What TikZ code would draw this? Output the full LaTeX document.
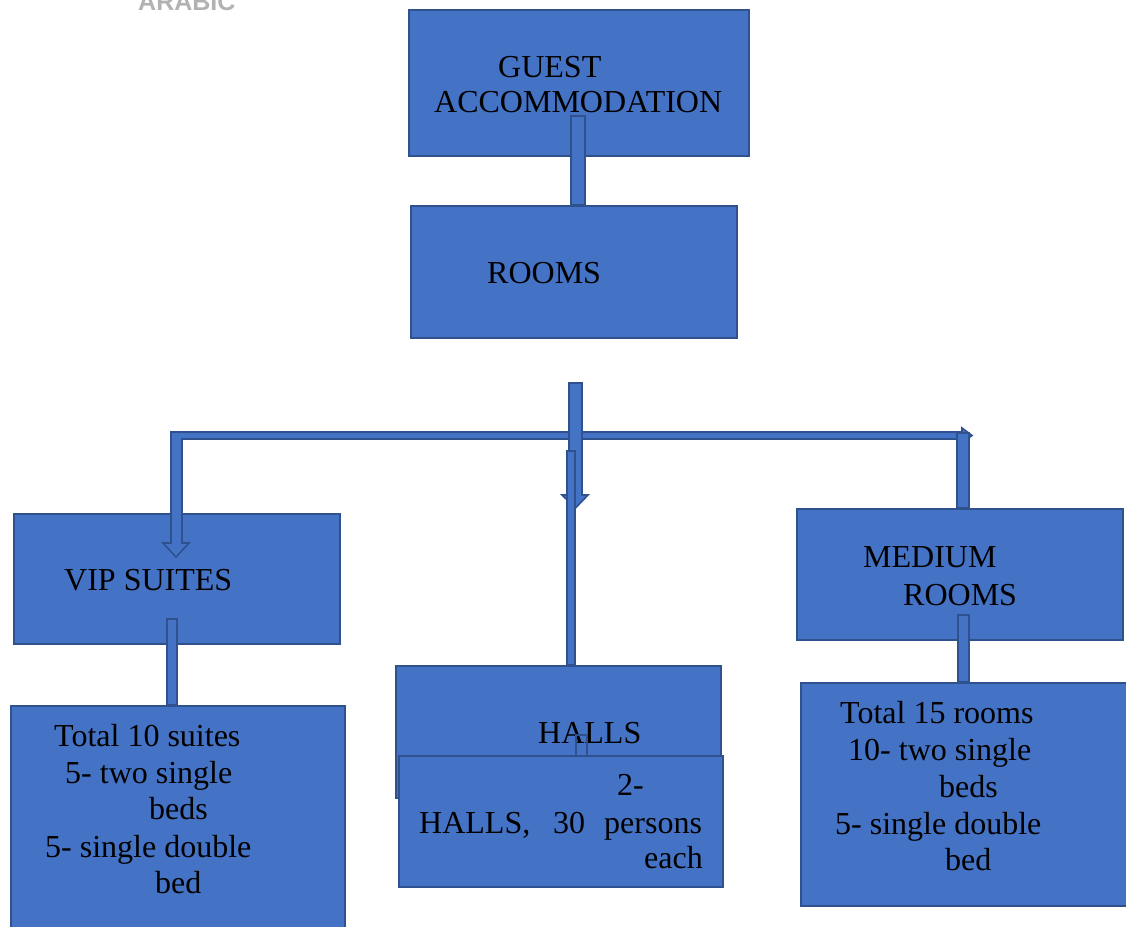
\documentclass[tikz,border=0pt]{standalone}
\usepackage{fontspec}
\setmainfont{Liberation Serif}
\newfontfamily\wmfont{Liberation Sans}
\definecolor{boxfill}{HTML}{4472C4}
\definecolor{boxline}{HTML}{2F528F}
\tikzset{
  blk/.style={draw=boxline, fill=boxfill, line width=2pt, line join=miter},
  box/.style={blk, rectangle, inner sep=0pt, anchor=north west},
  bar/.style={blk, line width=1.6pt},
  txt/.style={anchor=base west, inner sep=0pt, font=\fontsize{32}{37}\selectfont, text=black},
}
\begin{document}
\begin{tikzpicture}[x=1pt,y=-1pt]
\useasboundingbox (0,0) rectangle (1126,926);
% faded watermark fragment
\node[anchor=base west, inner sep=0pt, text=black!30, font=\wmfont\bfseries\fontsize{25}{25}\selectfont] (wm) at (138,10) {ARABIC};

% top box
\node[box, minimum width=340pt, minimum height=146pt] (guest) at (408,9) {};
\node[txt] (tguest1) at (498,77) {GUEST};
\node[txt] (tguest2) at (434,112) {ACCOMMODATION};
% rooms box
\node[box, minimum width=326pt, minimum height=132pt] (rooms) at (410,205) {};
\node[txt] (trooms) at (487,283) {ROOMS};
% connector guest -> rooms
\coordinate (g1) at (571,116);
\coordinate (g2) at (585,205);
\draw[bar] (g1) rectangle (g2);

% branch: horizontal bar with right arrowhead and left down arrow
\coordinate (hl) at (171,432);
\coordinate (hr) at (962,432);
\draw[bar] (hl) -- (hr) -- (962,428) -- (972,435.5) -- (962,443) -- (962,439)
  -- (182,439) -- (182,543) -- (189,543) -- (176,557) -- (163,543) -- (171,543) -- cycle;
% right vertical bar
\coordinate (r1) at (957,433);
\coordinate (r2) at (969,508);
\draw[bar] (r1) rectangle (r2);
% centre down arrow
\coordinate (c0) at (569,383);
\draw[bar] (c0) -- (582,383) -- (582,495) -- (588,495) -- (575.5,508) -- (562,495) -- (569,495) -- cycle;
% centre thin bar to halls
\coordinate (h1) at (567,451);
\coordinate (h2) at (575,665);

% VIP suites
\node[box, minimum width=326pt, minimum height=130pt] (vip) at (13,513) {};
\node[txt] (tvip) at (64,590) {VIP SUITES};
% redraw left arrow head part over the vip box
\draw[bar] (171,500) -- (171,543) -- (163,543) -- (176,557) -- (189,543) -- (182,543) -- (182,500);
\fill[boxfill] (172,498) rectangle (181,542);
% medium rooms
\node[box, minimum width=326pt, minimum height=131pt] (medium) at (796,508) {};
\node[txt] (tmed1) at (863,567) {MEDIUM};
\node[txt] (tmed2) at (903,605) {ROOMS};
% halls
\node[box, minimum width=325pt, minimum height=132pt] (halls) at (395,665) {};
\node[txt] (thalls) at (538,743) {HALLS};
\draw[bar] (h1) rectangle (h2);

% VIP detail
\coordinate (v1) at (167,619);
\coordinate (v2) at (177,705);
\draw[bar] (v1) rectangle (v2);
\node[box, minimum width=334pt, minimum height=225pt] (vipd) at (10,705) {};
\node[txt] (tv1) at (54,746) {Total 10 suites};
\node[txt] (tv2) at (65,783) {5- two single};
\node[txt] (tv3) at (149,819) {beds};
\node[txt] (tv4) at (45,857) {5- single double};
\node[txt] (tv5) at (155,893) {bed};

% halls detail
\coordinate (s1) at (576,735);
\coordinate (s2) at (587,757);
\draw[boxline, line width=1.2pt] (s1) rectangle (s2);
\node[box, minimum width=324pt, minimum height=131pt] (hallsd) at (398,755) {};
\node[txt] (th1) at (617,795) {2-};
\node[txt] (th2) at (419,833) {HALLS,};
\node[txt] (th3) at (553,833) {30};
\node[txt] (th4) at (604,833) {persons};
\node[txt] (th5) at (644,868) {each};

% medium detail
\coordinate (m1) at (958,615);
\coordinate (m2) at (969,682);
\draw[bar] (m1) rectangle (m2);
\node[box, minimum width=326pt, minimum height=223pt] (medd) at (800,682) {};
\node[txt] (tm1) at (840,723) {Total 15 rooms};
\node[txt] (tm2) at (848,760) {10- two single};
\node[txt] (tm3) at (939,797) {beds};
\node[txt] (tm4) at (835,834) {5- single double};
\node[txt] (tm5) at (945,870) {bed};
\end{tikzpicture}
\end{document}
